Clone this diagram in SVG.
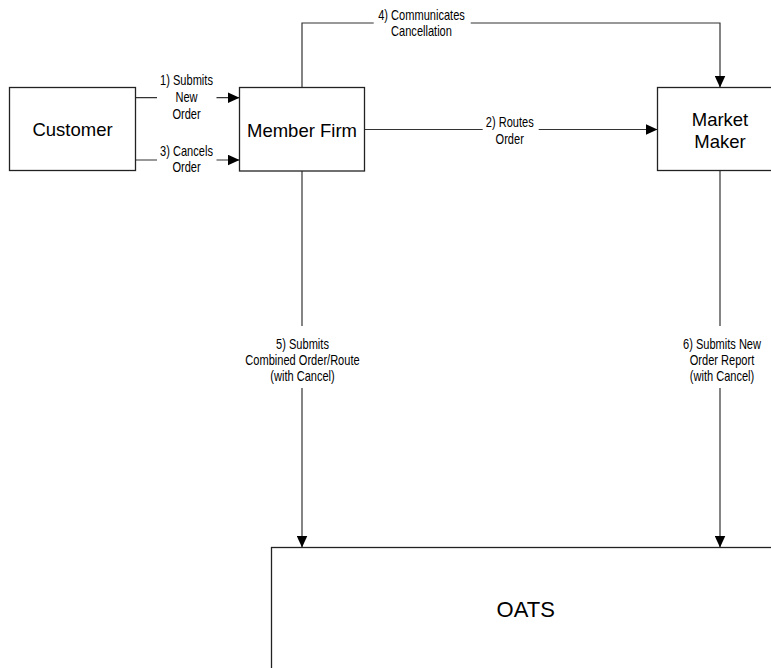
<svg xmlns="http://www.w3.org/2000/svg" width="771" height="668" viewBox="0 0 771 668">
<style>
.box{fill:#fff;stroke:#222;stroke-width:1.3}
.conn{fill:none;stroke:#333;stroke-width:1.2}
.node{font-family:"Liberation Sans",Arial,sans-serif;font-size:18.5px;fill:#000;text-anchor:middle}
.lbl{font-family:"Liberation Sans",Arial,sans-serif;font-size:14px;fill:#000;text-anchor:middle}
.bg{fill:#fff;stroke:none}
</style>
<defs>
<marker id="arr" viewBox="0 0 12 11" refX="12" refY="5.5" markerWidth="12" markerHeight="11" markerUnits="userSpaceOnUse" orient="auto">
<path d="M0,0 L12,5.5 L0,11 Z" fill="#000"/>
</marker>
</defs>
<rect width="771" height="668" fill="#fff"/>
<g id="connectors">
<path class="conn" d="M135.5,97.7 H239.5" marker-end="url(#arr)"/>
<path class="conn" d="M135.5,160 H239.5" marker-end="url(#arr)"/>
<path class="conn" d="M364.5,129.5 H657.5" marker-end="url(#arr)"/>
<path class="conn" d="M302,87.5 V23 H720 V87.5" marker-end="url(#arr)"/>
<path class="conn" d="M302,171 V547.5" marker-end="url(#arr)"/>
<path class="conn" d="M720,170.5 V547.5" marker-end="url(#arr)"/>
</g>
<g id="label1">
<rect class="bg" x="157" y="73" width="59.5" height="50"/>
<text class="lbl" transform="translate(186.5,0) scale(0.79,1)"><tspan x="0" y="85.3">1) Submits</tspan><tspan x="0" y="102">New</tspan><tspan x="0" y="119">Order</tspan></text>
</g>
<g id="label3">
<rect class="bg" x="157" y="144" width="59.5" height="32"/>
<text class="lbl" transform="translate(186.5,0) scale(0.79,1)"><tspan x="0" y="156">3) Cancels</tspan><tspan x="0" y="172">Order</tspan></text>
</g>
<g id="label2">
<rect class="bg" x="482.7" y="114" width="56" height="34"/>
<text class="lbl" transform="translate(509.7,0) scale(0.79,1)"><tspan x="0" y="126.8">2) Routes</tspan><tspan x="0" y="143.8">Order</tspan></text>
</g>
<g id="label4">
<rect class="bg" x="373.7" y="6" width="97" height="34"/>
<text class="lbl" transform="translate(421.5,0) scale(0.79,1)"><tspan x="0" y="19.6">4) Communicates</tspan><tspan x="0" y="35.8">Cancellation</tspan></text>
</g>
<g id="label5">
<rect class="bg" x="240" y="326" width="125" height="62"/>
<text class="lbl" transform="translate(302.5,0) scale(0.79,1)"><tspan x="0" y="349.3">5) Submits</tspan><tspan x="0" y="365">Combined Order/Route</tspan><tspan x="0" y="381">(with Cancel)</tspan></text>
</g>
<g id="label6">
<rect class="bg" x="675" y="326" width="96" height="62"/>
<text class="lbl" transform="translate(722,0) scale(0.79,1)"><tspan x="0" y="349.3">6) Submits New</tspan><tspan x="0" y="365">Order Report</tspan><tspan x="0" y="381">(with Cancel)</tspan></text>
</g>
<g id="customer">
<rect class="box" x="9.5" y="87.5" width="126" height="83"/>
<text class="node" x="72.5" y="136">Customer</text>
</g>
<g id="member-firm">
<rect class="box" x="239.5" y="87.5" width="125" height="83.5"/>
<text class="node" x="302" y="136.5">Member Firm</text>
</g>
<g id="market-maker">
<rect class="box" x="657.5" y="87.5" width="126" height="83"/>
<text class="node" x="720"><tspan x="720" y="125.7">Market</tspan><tspan x="720" y="148">Maker</tspan></text>
</g>
<g id="oats">
<rect class="box" x="271.5" y="547.5" width="520" height="150"/>
<text class="node" x="525.7" y="617" style="font-size:22px">OATS</text>
</g>
</svg>
